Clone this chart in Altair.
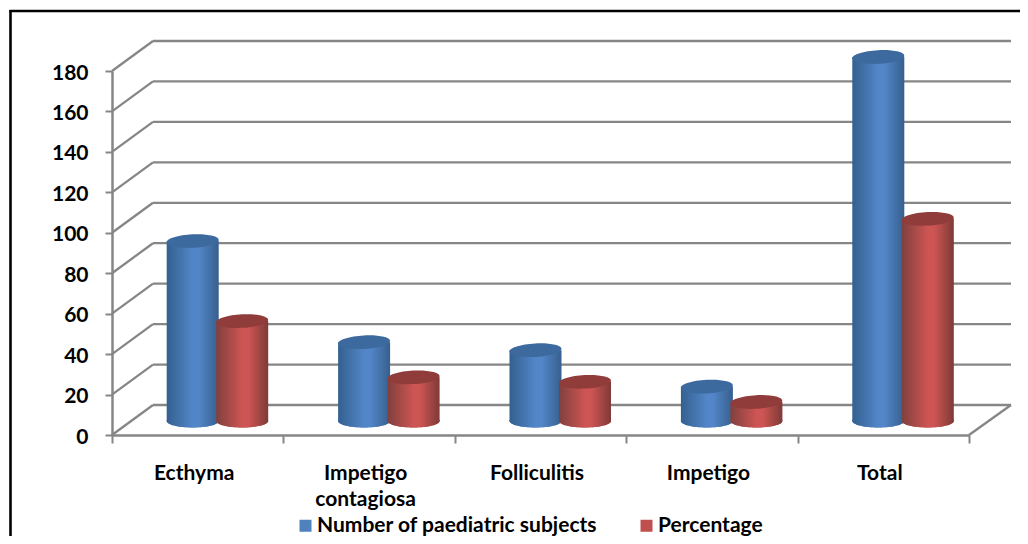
import altair as alt
import pandas as pd

categories = ["Ecthyma", "Impetigo contagiosa", "Folliculitis", "Impetigo", "Total"]
subjects = [89, 39, 35, 17, 180]
percentage = [49.4, 21.6, 19.4, 9.4, 100]
series_names = ["Number of paediatric subjects", "Percentage"]
grid_values = list(range(0, 181, 20))

FONT = "Lato"
FONT_SIZE = 21
GREY = "#868686"
PX_PER_UNIT = 364 / 180
DEPTH_UNITS = 30 / PX_PER_UNIT
DEPTH_X = 41
BACK_END = 899
PLOT_W, PLOT_H = 857, 364
CYL = 52
BASE_Y = -14

TOP_PATH = "M-0.999,0.052 A1,0.26 -3 1,1 0.999,-0.052 A1,0.26 -3 1,1 -0.999,0.052 Z"
BOTTOM_PATH = "M-1,0 A1,0.25 0 1,1 1,0 A1,0.25 0 1,1 -1,0 Z"


def grad(edge_l, mid, edge_r):
    return alt.LinearGradient(
        gradient="linear", x1=0, x2=1, y1=0, y2=0,
        stops=[
            alt.GradientStop(color=edge_l, offset=0),
            alt.GradientStop(color=mid, offset=0.5),
            alt.GradientStop(color=mid, offset=0.62),
            alt.GradientStop(color=edge_r, offset=1),
        ],
    )


x_enc = alt.X(
    "category:N",
    sort=categories,
    scale=alt.Scale(domain=categories, paddingInner=0, paddingOuter=0),
    axis=alt.Axis(
        title=None, labelAngle=0, tickBand="extent", tickSize=8, tickWidth=2,
        tickColor=GREY, domainColor=GREY, domainWidth=2.5, grid=False,
        labelFont=FONT, labelFontWeight="bold", labelFontSize=FONT_SIZE, labelColor="#000000",
        labelPadding=19, labelLineHeight=26, labelLimit=0, labelOffset=-4,
        labelExpr="datum.label == 'Impetigo contagiosa' ? ['Impetigo', 'contagiosa'] : datum.label",
    ),
)
y_scale = alt.Scale(domain=[0, 180], nice=False, zero=True)
y_axis = alt.Axis(
    title=None, values=grid_values, grid=False, tickSize=7, tickWidth=2,
    tickColor=GREY, domainColor=GREY, domainWidth=2.5,
    labelFont=FONT, labelFontWeight="bold", labelFontSize=FONT_SIZE, labelColor="#000000",
    labelPadding=17, labelOffset=2,
)
y_enc = alt.Y("value:Q", scale=y_scale, stack=None, axis=y_axis)

grid_df = pd.DataFrame({"value": grid_values, "back": [v + DEPTH_UNITS for v in grid_values]})
back_enc = alt.Y("back:Q", scale=y_scale, axis=y_axis)

walls = (
    alt.Chart(grid_df)
    .mark_rule(color=GREY, strokeWidth=2.3)
    .encode(x=alt.value(0), x2=alt.value(DEPTH_X), y=y_enc, y2=alt.Y2("back:Q"))
)
backs = (
    alt.Chart(grid_df)
    .mark_rule(color=GREY, strokeWidth=2.3)
    .encode(x=alt.value(DEPTH_X), x2=alt.value(BACK_END), y=back_enc)
)
floor_right = (
    alt.Chart(grid_df[grid_df["value"] == 0])
    .mark_rule(color=GREY, strokeWidth=2.3)
    .encode(x=alt.value(PLOT_W), x2=alt.value(BACK_END), y=y_enc, y2=alt.Y2("back:Q"))
)

frame_left = (
    alt.Chart(grid_df.head(1))
    .mark_rule(color="#000000", strokeWidth=2.6)
    .encode(x=alt.value(-101.5), y=alt.value(-61), y2=alt.value(473))
)
frame_top = (
    alt.Chart(grid_df.head(1))
    .mark_rule(color="#000000", strokeWidth=2.6)
    .encode(x=alt.value(-102.5), x2=alt.value(916), y=alt.value(-60))
)


def cylinder(values, name, x_off, edge_l, mid, edge_r, cap):
    df = pd.DataFrame({"category": categories, "value": values, "series": name})
    zero = df.assign(value=0)
    sym = dict(filled=True, size=CYL * CYL, opacity=1, strokeWidth=0, xOffset=x_off)
    fill = grad(edge_l, mid, edge_r)
    # flat base carries the legend colour, hidden under the shaded base
    base_flat = alt.Chart(zero).mark_point(shape=BOTTOM_PATH, yOffset=BASE_Y, **sym).encode(
        x=x_enc, y=y_enc,
        color=alt.Color(
            "series:N",
            scale=alt.Scale(domain=series_names, range=["#4f81bd", "#c0504d"]),
            legend=alt.Legend(
                title=None, orient="none", legendX=183, legendY=444, direction="horizontal",
                symbolType="square", symbolSize=144, symbolStrokeWidth=0, symbolOpacity=1,
                labelFont=FONT, labelFontWeight="bold", labelFontSize=FONT_SIZE, labelColor="#000000",
                labelOffset=1, columnPadding=38, labelLimit=0,
            ),
        ),
    )
    base = alt.Chart(zero).mark_point(shape=BOTTOM_PATH, yOffset=BASE_Y, fill=fill, **sym).encode(x=x_enc, y=y_enc)
    body = alt.Chart(df).mark_bar(width=CYL, xOffset=x_off, yOffset=BASE_Y, y2Offset=BASE_Y, color=fill).encode(
        x=x_enc, y=y_enc, y2=alt.Y2(datum=0)
    )
    top = alt.Chart(df).mark_point(shape=TOP_PATH, yOffset=BASE_Y, fill=cap, **sym).encode(x=x_enc, y=y_enc)
    return [base_flat, base, body, top]


blue = cylinder(subjects, series_names[0], -5, "#33608f", "#5286c8", "#375f8e", "#3d6a9e")
red = cylinder(percentage, series_names[1], 44.5, "#80403d", "#cd5553", "#7e3a38", "#8f3c3a")

chart = (
    alt.layer(frame_left, frame_top, backs, walls, floor_right, *blue, *red)
    .properties(
        width=PLOT_W,
        height=PLOT_H,
        padding={"left": 104, "top": 63, "right": 51, "bottom": 101},
        autosize=alt.AutoSizeParams(type="none"),
        background="#ffffff",
    )
    .configure_view(stroke=None)
)

chart.save("out.html", embed_options={"renderer": "svg", "actions": False})
